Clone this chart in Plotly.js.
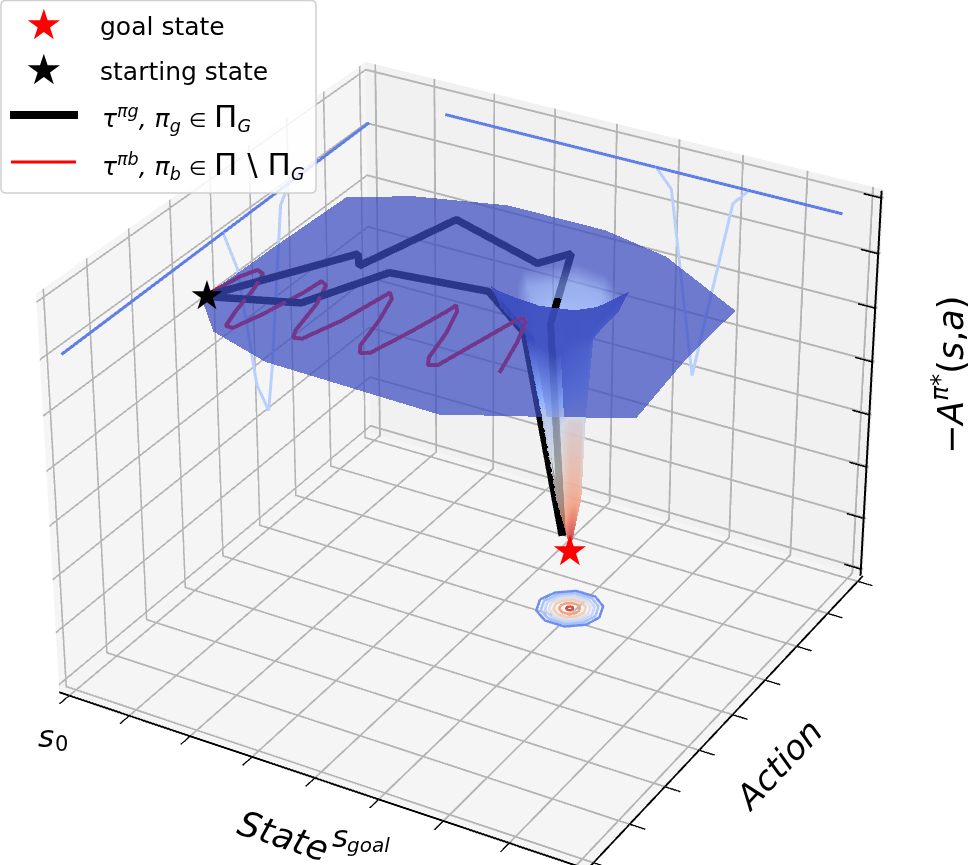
<!DOCTYPE html>
<html><head><meta charset="utf-8">
<script src="https://cdn.plot.ly/plotly-3.0.1.min.js"></script>
<style>html,body{margin:0;padding:0;background:#fff;overflow:hidden}
#wrap{position:absolute;left:0;top:0;width:969px;height:865px;overflow:hidden}
#plot{position:absolute}</style></head>
<body><div id="wrap"><div id="plot"></div></div>
<script>
// ---------- data (axes normalised to 0..1) ----------
const boundaryX=[.116,.12,.128,.224,.382,.569,.702,.887,.893,.913,.776,.643,.32,.194,.116];
const boundaryY=[.292,.508,.723,.783,.834,.835,.801,.689,.50,.298,.225,.156,.164,.207,.292];
const plateauZ=[.85,.85,.85,.85,.85,.85,.85,.85,.85,.85,.85,.85,.85,.85,.85];
const dirX=[-.832,-.972,-.98,-.927,-.744,-.214,.444,.958,.911,.679,.382,.082,-.476,-.722,-.832];
const dirY=[-.555,-.233,.197,.374,.668,.977,.898,.28,-.41,-.733,-.924,-.996,-.879,-.692,-.555];
const ringRadius=[.1,.085,.06,.04,.022,0];
const ringZ=[.845,.79,.72,.52,.30,.165];
const ringCX=[.593,.593,.595,.601,.608,.612];
const ringCY=[.636,.636,.638,.642,.646,.648];
const rimShape=[1.15,1,.95,1,.9,1,.95,1.15,1,.95,.85,.85,.9,1.05,1.15];
const midShape=[1,.8,1.1,.8,1.1,.9,1.1,.9,1.2,.8,1.1,.9,1.1,.8,1];
const flatShape=[1,1,1,1,1,1,1,1,1,1,1,1,1,1,1];
const colorBoundary=[.85,.85,.85,.85,.85,.85,.85,.85,.85,.85,.85,.85,.85,.85,.85];
const colorRim=[.85,.85,.7,.62,.6,.58,.58,.66,.85,.85,.85,.85,.85,.85,.85];
const colorRing2=[.8,.62,.56,.52,.5,.52,.5,.55,.62,.75,.8,.8,.75,.8,.8];
const colorRing3=[.42,.42,.46,.46,.5,.5,.5,.4,.33,.33,.36,.42,.42,.42,.42];
const colorRing4=[.33,.33,.33,.33,.33,.33,.33,.28,.25,.25,.27,.3,.33,.33,.33];
const colorTip=[.17,.17,.17,.17,.17,.17,.17,.17,.17,.17,.17,.17,.17,.17,.17];
const goalX=.612, goalY=.648, goalZ=.16;
const goodPathAX=[.095,.235,.259,.314,.511,.543,.562,.60];
const goodPathAY=[.33,.585,.549,.776,.705,.764,.66,.64];
const goodPathAZ=[.825,.825,.825,.825,.825,.825,.72,.20];
const goodPathBX=[.095,.245,.315,.49,.54,.60];
const goodPathBY=[.33,.39,.553,.578,.61,.64];
const goodPathBZ=[.825,.825,.825,.825,.72,.20];
const badPathX=[.0976,.1085,.1209,.1365,.1512,.1682,.1811,.1944,.2109,.2292,.2338,.248,.2682,.2867,.2968,.311,.3339,.3472,.3522,.366,.3862,.4037,.4165,.4303,.4504,.4656,.4683,.4807,.5023,.5193,.5308,.5446,.5633,.5784,.5858,.5963,.617,.6418];
const badPathY=[.3477,.4189,.4524,.4449,.394,.3101,.2624,.2621,.3238,.4211,.4711,.4628,.4024,.3066,.2828,.2874,.3703,.4601,.4933,.4761,.4029,.315,.293,.3015,.3956,.4823,.5097,.4917,.4193,.3355,.3126,.3212,.4272,.5139,.5271,.5122,.4478,.3474];
const wallLineXY=[.05,1], wallLineXZ=[.825,.845];
const wallDipXY=[.525,.565,.615,.65,.665,.705,.735];
const wallDipXZ=[.835,.72,.385,.295,.40,.80,.84];
const wallLineYX=[.165,.93], wallLineYZ=[.92,.92];
const wallDipYX=[.58,.61,.66,.727,.756];
const wallDipYZ=[.92,.875,.41,.877,.92];
const contourDirX=[-1,-.8,-.3,.35,.8,1,.85,.35,-.3,-.8,-1];
const contourDirY=[0,.55,.95,.95,.6,0,-.55,-.95,-.95,-.6,0];
const contourRadius=[.058,.05,.043,.036,.028,.018,.006];
const contourColor=['#6f8ff0','#a9c2fb','#c6d5fb','#e0e0e3','#f3cdb8','#f0a283','#d8503f'];
const tickStepXY=[.02,.14,.26,.38,.5,.62,.74,.86,.98];
const tickZ=[.02,.157,.294,.431,.568,.705,.842,.98];
// ---------- layout helpers ----------
const SCALE=4, W=969*SCALE, H=865*SCALE, LEFT=470-W/2, TOP=442-H/2;
const el=document.getElementById('plot');
el.style.left=LEFT+'px';el.style.top=TOP+'px';el.style.width=W+'px';el.style.height=H+'px';
const px=x=>(x-LEFT)/W, py=y=>1-(y-TOP)/H;
// ---------- surface ----------
const sx=[boundaryX],sy=[boundaryY],sz=[plateauZ];
ringRadius.forEach((r,i)=>{
  const shape=i<=1?rimShape:(i==2||i==3?midShape:flatShape);
  sx.push(dirX.map((d,j)=>ringCX[i]+r*d*shape[j]));sy.push(dirY.map((d,j)=>ringCY[i]+r*d*shape[j]));sz.push(dirX.map(()=>ringZ[i]));
});
const surfColor=[colorBoundary,colorBoundary,colorRim,colorRing2,colorRing3,colorRing4,colorTip];
const coolwarmR=[[0,'rgb(180,4,38)'],[.14,'rgb(244,154,123)'],[.29,'rgb(221,221,221)'],[.5,'rgb(141,176,254)'],[.9,'rgb(59,76,192)'],[1,'rgb(59,76,192)']];
const flat={ambient:1,diffuse:0,specular:0,roughness:1,fresnel:0};
const traces=[];
const line3=(x,y,z,color,width)=>traces.push({type:'scatter3d',mode:'lines',x,y,z,line:{color,width},hoverinfo:'skip',showlegend:false});
line3(goodPathAX,goodPathAY,goodPathAZ,'#000',15);
line3(goodPathBX,goodPathBY,goodPathBZ,'#000',15);
line3(badPathX,badPathY,badPathX.map(()=>.825),'#ff0000',8);
line3(wallLineXY.map(()=>.006),wallLineXY,wallLineXZ,'#5f7fe6',6);
line3(wallDipXY.map(()=>.006),wallDipXY,wallDipXZ,'#b9d0fd',6);
line3(wallLineYX,wallLineYX.map(()=>.994),wallLineYZ,'#5f7fe6',6);
line3(wallDipYX,wallDipYX.map(()=>.994),wallDipYZ,'#b9d0fd',6);
contourRadius.forEach((r,i)=>line3(contourDirX.map(d=>.612+r*d),contourDirY.map(d=>.648+r*d),contourDirX.map(()=>0.005),contourColor[i],5));
// z axis drawn on the right-hand edge, as in the reference
line3([.997,.997],[.997,.997],[.002,.998],'#000',4);
tickZ.forEach(t=>line3([.965,.997],[.997,.997],[t,t],'#000',3));
traces.push({type:'surface',x:sx,y:sy,z:sz,surfacecolor:surfColor,colorscale:coolwarmR,cmin:.15,cmax:.85,showscale:false,opacity:.72,lighting:flat,hoverinfo:'skip'});
const ax=(tickvals,bg,o={})=>Object.assign({range:[0,1],autorange:false,tickmode:'array',tickvals,showticklabels:false,ticks:'outside',ticklen:14,tickwidth:3,tickcolor:'#000',showgrid:true,gridcolor:'#b4b4b4',gridwidth:4,zeroline:false,showline:true,linecolor:'#000',linewidth:4,showbackground:true,backgroundcolor:bg,title:{text:''},showspikes:false},o);
const ann=(x,y,text,size,o={})=>Object.assign({xref:'paper',yref:'paper',x:px(x),y:py(y),text,showarrow:false,xanchor:'left',yanchor:'middle',font:{family:'DejaVu Sans',size,color:'#000'}},o);
const legendPath=(()=>{const l=px(1),r=px(316),t=py(0.5),b=py(193),rx=5/W,ry=5/H;
 return `M${l+rx},${t} L${r-rx},${t} Q${r},${t} ${r},${t-ry} L${r},${b+ry} Q${r},${b} ${r-rx},${b} L${l+rx},${b} Q${l},${b} ${l},${b+ry} L${l},${t-ry} Q${l},${t} ${l+rx},${t} Z`;})();
const big=s=>`<span style="font-size:31px">${s}</span>`, small=s=>`<span style="font-size:20px">${s}</span>`;
const layout={width:W,height:H,margin:{l:0,r:0,t:0,b:0},paper_bgcolor:'#fff',showlegend:false,
 scene:{domain:{x:[0,1],y:[0,1]},aspectmode:'manual',aspectratio:{x:.1,y:.1,z:.075},
  camera:{eye:{x:.2995,y:-.5188,z:.3459},center:{x:0,y:0,z:0},up:{x:0,y:0,z:1}},
  xaxis:ax(tickStepXY,'#f5f5f5'),yaxis:ax(tickStepXY,'#f1f1f1'),zaxis:ax(tickZ,'#f5f5f5',{ticks:'',showline:false}),
  annotations:[
   {x:.1,y:.33,z:.83,text:'★',showarrow:false,font:{size:40,color:'#000',family:'DejaVu Sans'}},
   {x:goalX,y:goalY,z:goalZ,text:'★',showarrow:false,font:{size:42,color:'#ff0000',family:'DejaVu Sans'}}
  ]},
 shapes:[
  {type:'path',xref:'paper',yref:'paper',path:legendPath,fillcolor:'rgba(255,255,255,.85)',line:{color:'#d0d0d0',width:1.5}},
  {type:'line',xref:'paper',yref:'paper',x0:px(10),x1:px(78),y0:py(115),y1:py(115),line:{color:'#000',width:8}},
  {type:'line',xref:'paper',yref:'paper',x0:px(11),x1:px(76),y0:py(162),y1:py(162),line:{color:'#f00',width:3}}
 ],
 annotations:[
  ann(43.5,25,'★',42,{xanchor:'center',font:{family:'DejaVu Sans',size:42,color:'#f00'}}),
  ann(43.5,69,'★',42,{xanchor:'center'}),
  ann(98,27,'goal state',25),
  ann(98,71,'starting state',25),
  ann(100,117,`<i>τ<sup>πg</sup>, π<sub>g</sub></i> ${small('∈')} ${big('Π')}<sub><i>G</i></sub>`,25),
  ann(100,165,`<i>τ<sup>πb</sup>, π<sub>b</sub></i> ${small('∈')} ${big('Π \\ Π')}<sub><i>G</i></sub>`,25),
  ann(283,836,'<i>State</i>',35,{xanchor:'center',textangle:18}),
  ann(340,836,'<i>s</i>',31,{xanchor:'center'}),
  ann(368,845,'<i>goal</i>',20,{xanchor:'center'}),
  ann(46,736,'<i>s</i>',31,{xanchor:'center'}),
  ann(61,744,'0',21,{xanchor:'center'}),
  ann(778,765,'<i>Action</i>',34,{xanchor:'center',textangle:-47}),
  ann(948,375,'−<i>A<sup>π*</sup></i>(<i>s</i>,<i>a</i>)',35,{xanchor:'center',textangle:-90})
 ]};
Plotly.newPlot(el,traces,layout,{displayModeBar:false,plotGlPixelRatio:1});
</script></body></html>
